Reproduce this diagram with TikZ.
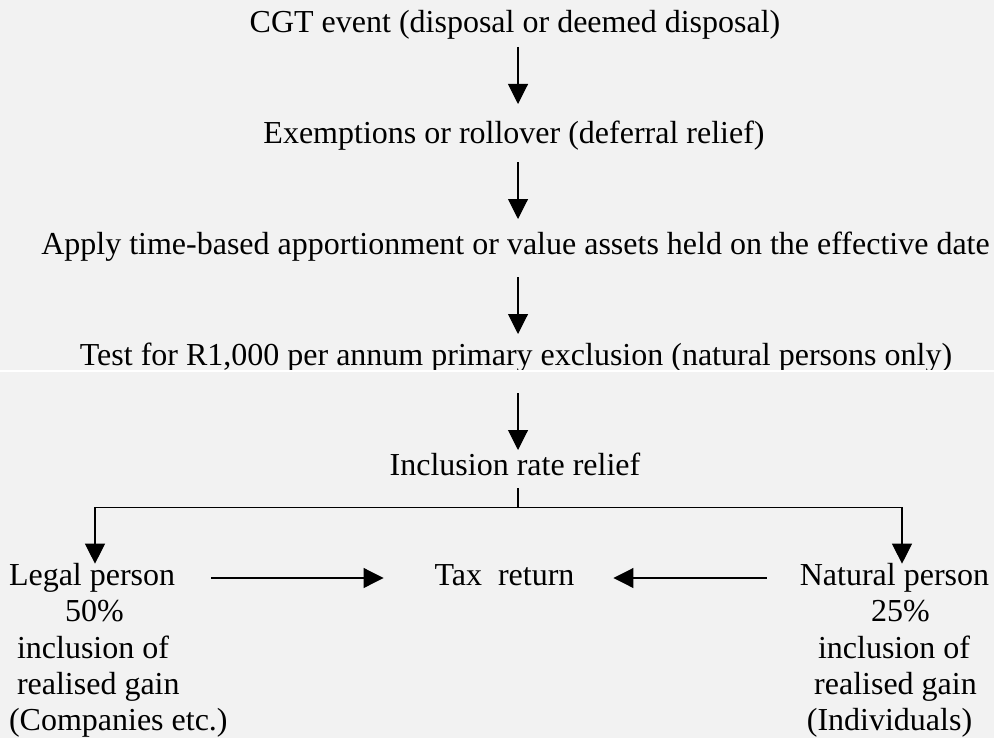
\documentclass[tikz,border=0pt]{standalone}
\usepackage{fontspec}
\setmainfont{Liberation Serif}
\usetikzlibrary{arrows.meta}
\definecolor{bgcol}{RGB}{242,242,242}
\begin{document}
\begin{tikzpicture}[x=0.75pt,y=-0.75pt,
  txt/.style={inner sep=0pt, outer sep=0pt, text height=16pt, text depth=6pt,
    font=\fontsize{24pt}{27pt}\selectfont, anchor=base},
  txtl/.style={txt, anchor=base west},
  arr/.style={draw=black, line width=0.8pt, -{Triangle[length=15pt,width=15pt]}},
  ln/.style={draw=black, line width=0.8pt}]
\fill[bgcol] (0,0) rectangle (994,738);
\useasboundingbox (0,0) rectangle (994,738);

% main column
\node[txt] (cgt) at (515,33) {CGT event (disposal or deemed disposal)};
\node[txt] (exe) at (514,143) {Exemptions or rollover (deferral relief)};
\node[txt] (app) at (515.5,254) {Apply time-based apportionment or value assets held on the effective date};
\node[txt] (tst) at (516,365) {Test for R1,000 per annum primary exclusion (natural persons only)};
\node[txt] (inc) at (515,475) {Inclusion rate relief};
\node[txt] (tax) at (504.5,585) {Tax\ \ return};

% left block
\node[txtl] (leg1) at (9,585) {Legal person};
\node[txtl] (leg2) at (65,621) {50\%};
\node[txtl] (leg3) at (17,658) {inclusion of};
\node[txtl] (leg4) at (17,694) {realised gain};
\node[txtl] (leg5) at (9,730) {(Companies etc.)};

% right block
\node[txt] (nat1) at (894.5,585) {Natural person};
\node[txt] (nat2) at (900.5,621) {25\%};
\node[txt] (nat3) at (894,658) {inclusion of};
\node[txt] (nat4) at (895.5,694) {realised gain};
\node[txt] (nat5) at (889.5,730) {(Individuals)};

% connectors
\coordinate (ax) at (518,0);
\draw[arr, shorten <=4.5pt, shorten >=13.25pt] (cgt.south -| ax) -- (exe.north -| ax);
\draw[arr, shorten <=8.25pt, shorten >=10.25pt] (exe.south -| ax) -- (app.north -| ax);
\draw[arr, shorten <=11.25pt, shorten >=7.25pt] (app.south -| ax) -- (tst.north -| ax);
\draw[arr, shorten <=15pt, shorten >=2.75pt] (tst.south -| ax) -- (inc.north -| ax);

\coordinate (bar) at (518,507.5);
\coordinate (bl) at (95,507.5);
\coordinate (br) at (902,507.5);
\draw[ln, shorten <=3.75pt] (inc.south -| ax) -- (bar);
\draw[arr] (bar) -- (bl) -- (bl |- leg1.north);
\draw[arr] (bar) -- (br) -- (br |- nat1.north);

\draw[arr, shorten <=27pt, shorten >=38.25pt] ([yshift=5.25pt]leg1.base east) -- ([yshift=5.25pt]tax.base west);
\draw[arr, shorten <=24.75pt, shorten >=29.25pt] ([yshift=5.25pt]nat1.base west) -- ([yshift=5.25pt]tax.base east);

% thin white seam across the picture
\fill[white] (0,370.3) rectangle (994,371.7);
\end{tikzpicture}
\end{document}
